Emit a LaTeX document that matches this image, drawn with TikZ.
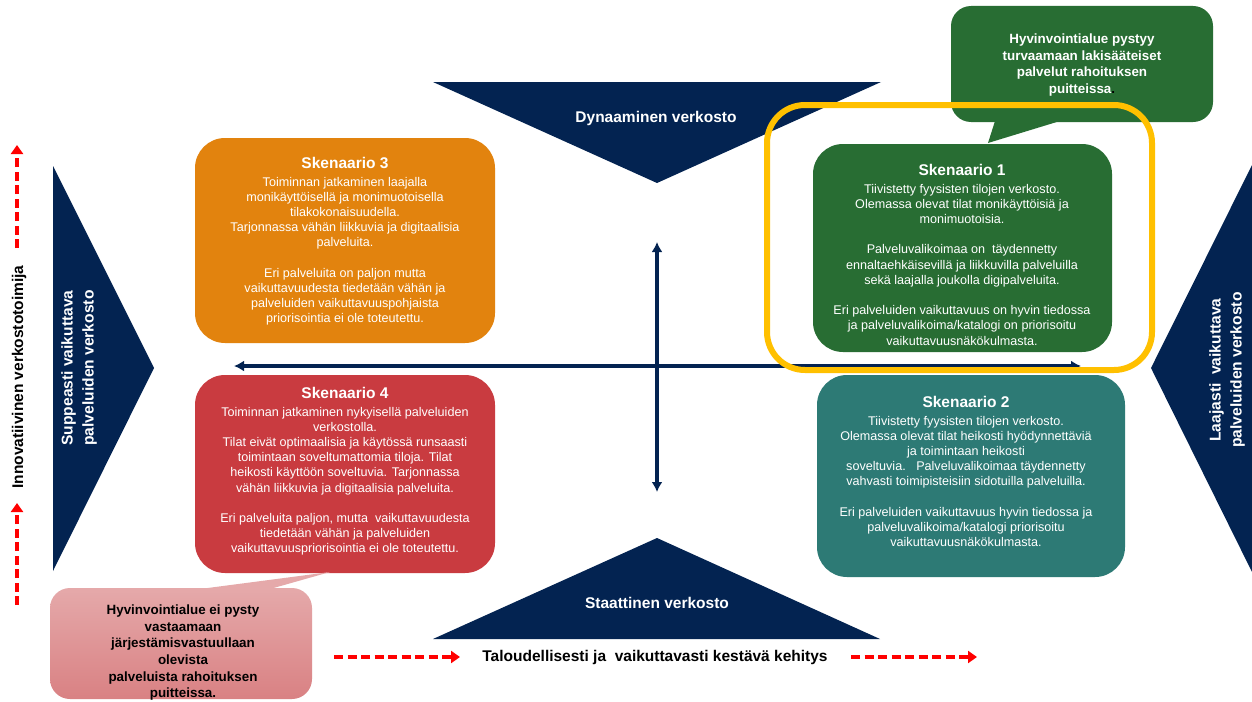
\documentclass[tikz,border=0pt]{standalone}
\usepackage{fontspec}
\setmainfont{Liberation Sans}
\usetikzlibrary{arrows.meta}
\definecolor{navy}{HTML}{032351}
\definecolor{sorange}{HTML}{E2830E}
\definecolor{sgreen}{HTML}{286D33}
\definecolor{steal}{HTML}{2D7A75}
\definecolor{sred}{HTML}{C93B40}
\definecolor{pinkT}{HTML}{E5A9AA}
\definecolor{pinkB}{HTML}{D98183}
\definecolor{frameyellow}{HTML}{FFC000}
\definecolor{dashred}{HTML}{FF0000}
\newcommand\sktitle{\fontsize{15.5}{15.2}\selectfont\bfseries}
\tikzset{
  tri/.style={fill=navy, draw=none},
  sbox/.style={draw=none, rounded corners=30pt, inner sep=0pt},
  cbox/.style={draw=none, rounded corners=20pt, inner sep=0pt},
  stext/.style={text=white, align=center, inner sep=0pt, font=\fontsize{12.6}{15.2}\selectfont},
  ctext/.style={align=center, inner sep=0pt, font=\fontsize{13.4}{16.7}\selectfont\bfseries},
  trilabel/.style={text=white, align=center, inner sep=0pt, font=\fontsize{15.5}{18}\selectfont\bfseries},
  sidelabel/.style={trilabel, rotate=90, font=\fontsize{15.6}{21}\selectfont\bfseries},
  axisline/.style={draw=navy, line width=3.2pt, {Latex[length=10pt,width=11pt]}-{Latex[length=10pt,width=11pt]}},
  redarrow/.style={draw=dashred, line width=3.8pt, dash pattern=on 9pt off 4.5pt, -{Triangle[length=9pt,width=12pt]}},
  blacklabel/.style={text=black, align=center, inner sep=0pt, font=\fontsize{15.5}{18}\selectfont\bfseries}
}
\begin{document}
\begin{tikzpicture}[x=1pt,y=-1pt]
\useasboundingbox[fill=white] (0,0) rectangle (1252,701);

% navy triangles
\fill[tri] (433,82) -- (881,82) -- (657,183) -- cycle;
\fill[tri] (433,639) -- (880,639) -- (657,538) -- cycle;
\fill[tri] (53,166) -- (53,571) -- (154,368) -- cycle;
\fill[tri] (1252,165) -- (1252,572) -- (1151,368) -- cycle;

\node[trilabel] (dyn) at (656,118) {Dynaaminen verkosto};
\node[trilabel] (sta) at (657,603) {Staattinen verkosto};
\node[sidelabel] (supp) at (79,368) {Suppeasti vaikuttava\\palveluiden verkosto};
\node[sidelabel] (laaj) at (1227,370) {Laajasti\ \ vaikuttava\\palveluiden verkosto};

% axes
\coordinate (axL) at (234,366);
\coordinate (axR) at (1081,366);
\coordinate (axT) at (657,242);
\coordinate (axB) at (657,492);
\draw[axisline] (axL) -- (axR);
\draw[axisline] (axT) -- (axB);

% scenario boxes
\node[sbox, fill=sorange, minimum width=300pt, minimum height=205pt] (s3box) at (345,240.5) {};
\node[sbox, fill=sgreen, minimum width=299pt, minimum height=208pt] (s1box) at (962.5,248) {};
\node[sbox, fill=steal, minimum width=308pt, minimum height=202pt] (s2box) at (971,476) {};
\node[sbox, fill=sred, minimum width=300pt, minimum height=198pt] (s4box) at (345,474) {};

\node[stext, anchor=north] (s3) at (345,157.4) {{\sktitle Skenaario 3}\\[2pt]
Toiminnan jatkaminen laajalla\\
monikäyttöisellä ja monimuotoisella\\
tilakokonaisuudella.\\
Tarjonnassa vähän liikkuvia ja digitaalisia\\
palveluita.\\[15.2pt]
Eri palveluita on paljon mutta\\
vaikuttavuudesta tiedetään vähän ja\\
palveluiden vaikuttavuuspohjaista\\
priorisointia ei ole toteutettu.};

\node[stext, anchor=north] (s1) at (962,164.4) {{\sktitle Skenaario 1}\\[2pt]
Tiivistetty fyysisten tilojen verkosto.\\
Olemassa olevat tilat monikäyttöisiä ja\\
monimuotoisia.\\[15.2pt]
Palveluvalikoimaa on\ \ täydennetty\\
ennaltaehkäisevillä ja liikkuvilla palveluilla\\
sekä laajalla joukolla digipalveluita.\\[15.2pt]
Eri palveluiden vaikuttavuus on hyvin tiedossa\\
ja palveluvalikoima/katalogi on priorisoitu\\
vaikuttavuusnäkökulmasta.};

\node[stext, anchor=north] (s2) at (966,396.4) {{\sktitle Skenaario 2}\\[2pt]
Tiivistetty fyysisten tilojen verkosto.\\
Olemassa olevat tilat heikosti hyödynnettäviä\\
ja toimintaan heikosti\\
soveltuvia.\ \ \ Palveluvalikoimaa täydennetty\\
vahvasti toimipisteisiin sidotuilla palveluilla.\\[15.2pt]
Eri palveluiden vaikuttavuus hyvin tiedossa ja\\
palveluvalikoima/katalogi priorisoitu\\
vaikuttavuusnäkökulmasta.};

\node[stext, anchor=north] (s4) at (345,387.4) {{\sktitle Skenaario 4}\\[2pt]
Toiminnan jatkaminen nykyisellä palveluiden\\
verkostolla.\\
Tilat eivät optimaalisia ja käytössä runsaasti\\
toimintaan soveltumattomia tiloja. Tilat\\
heikosti käyttöön soveltuvia. Tarjonnassa\\
vähän liikkuvia ja digitaalisia palveluita.\\[15.2pt]
Eri palveluita paljon, mutta\ \ vaikuttavuudesta\\
tiedetään vähän ja palveluiden\\
vaikuttavuuspriorisointia ei ole toteutettu.};

% top callout
\fill[sgreen] (995,121) -- (988,143) -- (1060,121) -- cycle;
\node[cbox, fill=sgreen, minimum width=262pt, minimum height=116pt] (cgreen) at (1082,64) {};
\node[ctext, text=white, anchor=north] (cgt) at (1082,33.5) {Hyvinvointialue pystyy\\turvaamaan lakisääteiset\\palvelut rahoituksen\\puitteissa{\color{black}.}};

% pink callout
\fill[pinkT] (200,589) -- (330,572) -- (270,589) -- cycle;
\node[cbox, top color=pinkT, bottom color=pinkB, minimum width=262pt, minimum height=111pt] (cpink) at (181,643.5) {};
\node[ctext, text=black, anchor=north] (cpt) at (183,604.5) {Hyvinvointialue ei pysty\\vastaamaan\\järjestämisvastuullaan\\olevista\\palveluista rahoituksen\\puitteissa.};

% red dashed arrows
\coordinate (vl1s) at (17,605);
\coordinate (vl1e) at (17,503);
\coordinate (vl2s) at (17,248);
\coordinate (vl2e) at (17,145);
\draw[redarrow] (vl1s) -- (vl1e);
\draw[redarrow] (vl2s) -- (vl2e);
\node[blacklabel, rotate=90] (innov) at (19,377) {Innovatiivinen verkostotoimija};

\coordinate (hl1s) at (334,657);
\coordinate (hl1e) at (460,657);
\coordinate (hl2s) at (851,657);
\coordinate (hl2e) at (977,657);
\draw[redarrow] (hl1s) -- (hl1e);
\draw[redarrow] (hl2s) -- (hl2e);
\node[blacklabel] (talous) at (655,657) {Taloudellisesti ja\ \ vaikuttavasti kestävä kehitys};

% yellow highlight frame
\draw[draw=frameyellow, line width=6pt, rounded corners=38pt] (767,105) rectangle (1152,370);
\end{tikzpicture}
\end{document}
